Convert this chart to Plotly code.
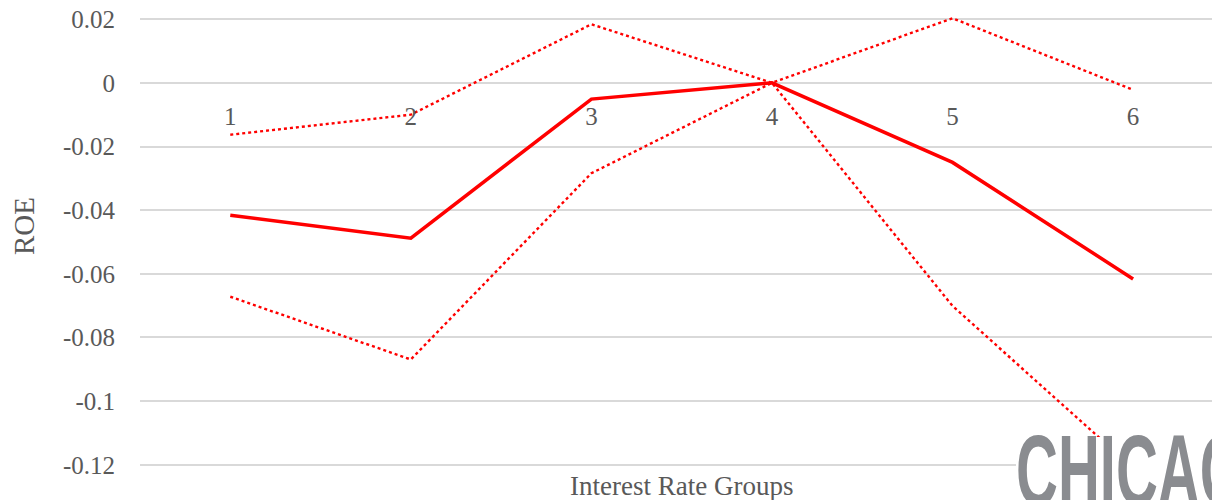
import plotly.graph_objects as go

# Interest-rate groups and ROE estimates with confidence bounds
groups = [1, 2, 3, 4, 5, 6]
group_labels = ["1", "2", "3", "4", "5", "6"]
roe_estimate = [-0.0416, -0.0488, -0.0051, 0.0, -0.0250, -0.0616]
roe_upper = [-0.0163, -0.0100, 0.0184, 0.0, 0.0203, -0.0022]
roe_lower = [-0.0672, -0.0869, -0.0284, 0.0, -0.0701, -0.1210]

y_ticks = [0.02, 0.0, -0.02, -0.04, -0.06, -0.08, -0.10, -0.12]
y_tick_labels = ["0.02", "0", "-0.02", "-0.04", "-0.06", "-0.08", "-0.1", "-0.12"]

W, H = 1212, 500
M_L, M_R, M_T, M_B = 140, 0, 16, 32
PW, PH = W - M_L - M_R, H - M_T - M_B

TEXT = "#595959"
GRID = "#d9d9d9"
RED = "#ff0000"
SERIF = "Liberation Serif, Times New Roman, serif"
LOGO = "CHICAG"


def px_x(px):
    return (px - M_L) / PW


def px_y(py):
    return (H - M_B - py) / PH


fig = go.Figure()
for vals in (roe_upper, roe_lower):
    fig.add_trace(go.Scatter(x=groups, y=vals, mode="lines",
                             line=dict(color=RED, width=2.4, dash="dot"),
                             hoverinfo="skip", showlegend=False))
fig.add_trace(go.Scatter(x=groups, y=roe_estimate, mode="lines",
                         line=dict(color=RED, width=3.5),
                         showlegend=False))

fig.update_layout(
    width=W, height=H,
    margin=dict(l=M_L, r=M_R, t=M_T, b=M_B, pad=0),
    paper_bgcolor="white", plot_bgcolor="white",
    font=dict(family=SERIF, color=TEXT),
    xaxis=dict(
        range=[0.5, 6.437],
        tickvals=groups, ticktext=group_labels,
        anchor="free", position=px_y(82),
        showgrid=False, zeroline=False, showline=False, ticks="",
        ticklabelstandoff=17,
        tickfont=dict(size=25, color=TEXT, family=SERIF),
    ),
    yaxis=dict(
        range=[-0.121, 0.021],
        tickvals=y_ticks, ticktext=y_tick_labels,
        showgrid=True, gridcolor=GRID, gridwidth=2,
        zeroline=False, showline=False, ticks="",
        ticklabelstandoff=24,
        tickfont=dict(size=25, color=TEXT, family=SERIF),
    ),
    annotations=[
        dict(text="ROE", xref="paper", yref="paper",
             x=px_x(24), y=px_y(226), textangle=-90,
             showarrow=False, xanchor="center", yanchor="middle",
             font=dict(size=29, color=TEXT, family=SERIF)),
        dict(text="Interest Rate Groups", xref="paper", yref="paper",
             x=px_x(681), y=px_y(486),
             showarrow=False, xanchor="center", yanchor="middle",
             font=dict(size=27, color=TEXT, family=SERIF)),
        dict(text=LOGO, xref="paper", yref="paper",
             x=px_x(1014), y=px_y(412),
             showarrow=False, xanchor="left", yanchor="top",
             font=dict(size=100, color="#8a8c90", weight="bold",
                       family="Liberation Sans, Arial, sans-serif")),
    ],
    shapes=[
        dict(type="rect", xref="paper", yref="paper", layer="above",
             x0=px_x(1016), x1=px_x(1230), y0=px_y(437), y1=px_y(520),
             fillcolor="white", line=dict(width=0)),
    ],
)

# condense the wordmark horizontally
condense_logo = """
var gd = document.getElementById('{plot_id}');
gd.querySelectorAll('.annotation-text').forEach(function (t) {
  if (t.textContent === '%s') {
    t.style.transformBox = 'fill-box';
    t.style.transformOrigin = '0 0';
    t.style.transform = 'scaleX(0.58)';
  }
});
""" % LOGO

fig.write_html("out.html", config={"displayModeBar": False},
               post_script=condense_logo)
